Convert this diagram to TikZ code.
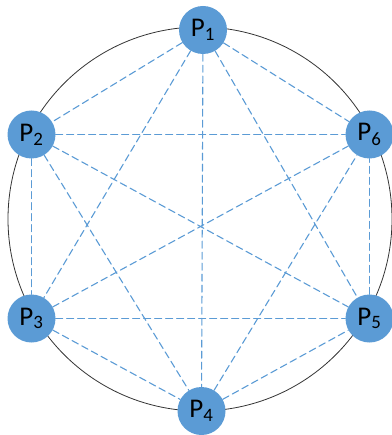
\documentclass[tikz,border=0pt]{standalone}
\usepackage{fontspec}
\setmainfont{Carlito}
\definecolor{nodeblue}{RGB}{91,155,213}

\begin{document}
\begin{tikzpicture}[
  x=1pt, y=-1pt,
  line cap=round,
  line join=round,
  every node/.style={font=\fontsize{27}{29}\selectfont},
  proc/.style={circle, fill=nodeblue, inner sep=0pt, minimum size=48pt},
  link/.style={nodeblue, line width=1.1pt, dash pattern=on 7pt off 4pt}
]
\useasboundingbox (0,0) rectangle (391,435);

% Outer circle
\draw[black!80, line width=0.8pt] (200,219) circle[radius=192];

% --- the six processes round the circle ---
\node[proc] (p1) at (203,30)  {P\textsubscript{1}};
\node[proc] (p2) at (31.5,134.5)  {P\textsubscript{2}};
\node[proc] (p3) at (31.5,318.5)  {P\textsubscript{3}};
\node[proc] (p4) at (201.5,411) {P\textsubscript{4}};
\node[proc] (p5) at (369.5,318.5) {P\textsubscript{5}};
\node[proc] (p6) at (369.5,134.5) {P\textsubscript{6}};

% --- every pair is linked ---
\foreach \a/\b in {1/2,1/3,1/4,1/5,1/6,2/3,2/4,2/5,2/6,3/4,3/5,3/6,4/5,4/6,5/6}
  \draw[link] (p\a) -- (p\b);

\end{tikzpicture}
\end{document}
